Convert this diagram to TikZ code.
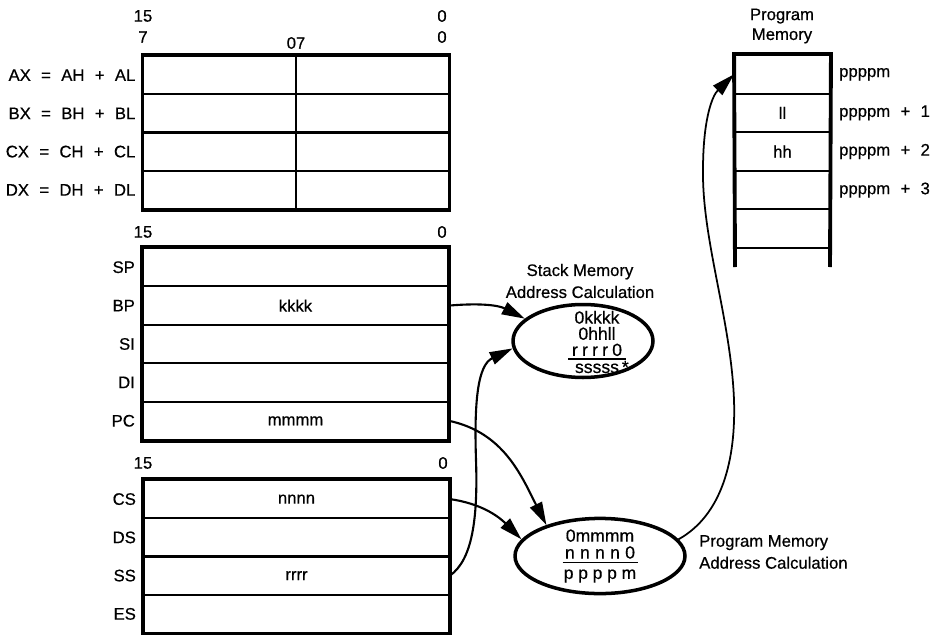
\documentclass[tikz,border=0pt]{standalone}
\usepackage{fontspec}
\setmainfont{Liberation Sans}[FakeBold=0.6]
\usetikzlibrary{positioning,arrows.meta,shapes.geometric}
\newcommand\widespace{\spaceskip 0.62em\relax}

\begin{document}
\begin{tikzpicture}[
    x=0.02cm, y=0.02cm,
    every node/.style={font=\fontsize{9.5}{11}\selectfont},
    half/.style={rectangle, draw, line width=1.1pt, minimum width=3.05cm, minimum height=0.766cm, inner sep=0pt},
    reg/.style={half, minimum width=6.1cm},
    cell/.style={rectangle, draw, line width=1.1pt, minimum width=1.9cm, minimum height=0.772cm, inner sep=0pt},
    frame/.style={line width=2.2pt},
    rlab/.style={font=\fontsize{9.5}{11}\selectfont\widespace},
    calc/.style={ellipse, draw, line width=2pt, inner sep=0pt},
    arrow/.style={-{Triangle[length=0.46cm,width=0.26cm]}, line width=1.2pt}
]
    \useasboundingbox (0,0) rectangle (939,-635);

    % general registers
    \node (hi15) at (143,-16) {15};
    \node (lo0) at (442,-16) {0};
    \node (hi7) at (143,-37) {7};
    \node (mid07) at (296,-43) {07};
    \node (lo0b) at (442,-37) {0};

    \node[half] (ah) at (219.75,-75.1) {};
    \node[half] (al) at (372.25,-75.1) {};
    \node[half] (bh) at (219.75,-113.4) {};
    \node[half] (bl) at (372.25,-113.4) {};
    \node[half] (ch) at (219.75,-151.6) {};
    \node[half] (cl) at (372.25,-151.6) {};
    \node[half] (dh) at (219.75,-189.9) {};
    \node[half] (dl) at (372.25,-189.9) {};
    \draw[frame] (ah.north west) rectangle (dl.south east);

    \node[rlab, left=0.02cm of ah] (axl) {AX = AH + AL};
    \node[rlab, left=0.02cm of bh] (bxl) {BX = BH + BL};
    \node[rlab, left=0.02cm of ch] (cxl) {CX = CH + CL};
    \node[rlab, left=0.02cm of dh] (dxl) {DX = DH + DL};

    % pointer registers
    \node (p15) at (143,-232) {15};
    \node (p0) at (442,-232) {0};
    \node[reg] (sp) at (295.5,-267.2) {};
    \node[reg] (bp) at (295.5,-305.6) {kkkk};
    \node[reg] (si) at (295.5,-344) {};
    \node[reg] (di) at (295.5,-382.4) {};
    \node[reg] (pc) at (295.5,-420.8) {mmmm};
    \draw[frame] (sp.north west) rectangle (pc.south east);

    \node[left=0.02cm of sp] (spl) {SP};
    \node[left=0.02cm of bp] (bpl) {BP};
    \node[left=0.02cm of si] (sil) {SI};
    \node[left=0.02cm of di] (dil) {DI};
    \node[left=0.02cm of pc] (pcl) {PC};

    % segment registers
    \node (s15) at (143,-463) {15};
    \node (s0) at (443,-463) {0};
    \node[reg] (cs) at (296.5,-499.1) {nnnn};
    \node[reg] (ds) at (296.5,-537.4) {};
    \node[reg] (ss) at (296.5,-575.6) {rrrr};
    \node[reg] (es) at (296.5,-613.9) {};
    \draw[frame] (cs.north west) rectangle (es.south east);

    \node[left=0.02cm of cs] (csl) {CS};
    \node[left=0.02cm of ds] (dsl) {DS};
    \node[left=0.02cm of ss] (ssl) {SS};
    \node[left=0.02cm of es] (esl) {ES};

    % program memory
    \node[align=center, font=\fontsize{9.5}{11.3}\selectfont] (pmt) at (782,-26) {Program\\Memory};
    \node[cell] (m1) at (782.5,-74.3) {};
    \node[cell] (m2) at (782.5,-112.9) {ll};
    \node[cell] (m3) at (782.5,-151.5) {hh};
    \node[cell] (m4) at (782.5,-190.1) {};
    \node[cell] (m5) at (782.5,-228.7) {};
    \coordinate (mbl) at (735,-267);
    \coordinate (mbr) at (830,-267);
    \draw[frame] (mbl) -- (m1.north west) -- (m1.north east) -- (mbr);

    \node[rlab, right=0.04cm of m1] (a0) {ppppm};
    \node[rlab, right=0.04cm of m2] (a1) {ppppm + 1};
    \node[rlab, right=0.04cm of m3] (a2) {ppppm + 2};
    \node[rlab, right=0.04cm of m4] (a3) {ppppm + 3};

    % address calculations
    \node[calc, minimum width=2.8cm, minimum height=1.46cm] (se) at (583,-341) {};
    \node[align=center, font=\fontsize{10}{9.2}\selectfont] (sec) at (597,-342)
        {0kkkk\\0hhll\\\rlap{\rule[-2.2pt]{1.15cm}{0.8pt}}\makebox[1.15cm]{\makebox[1cm][s]{r\hfil r\hfil r\hfil r\hfil 0}}\\[0.5pt]sssss\rlap{\,*}};
    \node[align=center, font=\fontsize{9.5}{12.5}\selectfont] (sel) at (580,-281)
        {Stack Memory\\Address Calculation};

    \node[calc, minimum width=3.4cm, minimum height=1.26cm, align=center, font=\fontsize{10}{9.6}\selectfont] (pe) at (600,-556)
        {0mmmm\\\rlap{\rule[-2.5pt]{1.5cm}{0.8pt}}\makebox[1.5cm]{\makebox[1.4cm][s]{n\hfil n\hfil n\hfil n\hfil 0}}\\[2pt]\makebox[1.45cm][s]{p\hfil p\hfil p\hfil p\hfil m}};
    \node[anchor=west, align=left, font=\fontsize{9.5}{12.5}\selectfont] (pel) at (693,-552)
        {Program Memory\\Address Calculation};

    % connectors
    \draw[arrow] (bp.east) to[out=5, in=153] (se.159);
    \draw[arrow] (ss.east) .. controls (472,-560) and (478,-520) .. (476,-460)
        .. controls (474,-400) and (478,-365) .. (se.186);
    \draw[arrow] (pc.east) to[out=-12, in=117] (pe.150);
    \draw[arrow] (cs.east) to[out=-8, in=135] (pe.168);
    \draw[arrow, line width=1pt] (pe.12) .. controls (722,-515) and (736,-460) .. (734,-400)
        .. controls (731,-320) and (702,-240) .. (703,-170)
        .. controls (703,-120) and (712,-96) .. (m1.west);
\end{tikzpicture}
\end{document}
